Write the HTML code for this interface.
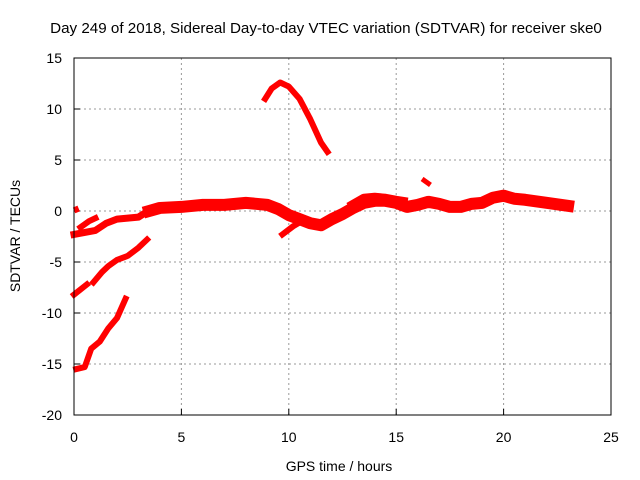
<!DOCTYPE html>
<html><head><meta charset="utf-8"><style>
body{margin:0;background:#fff}
svg{display:block}
text{font-family:"Liberation Sans",sans-serif;font-size:14px;fill:#000}
</style></head><body>
<svg id="chart" width="640" height="480">
<text x="326" y="33" text-anchor="middle" style="font-size:15.2px">Day 249 of 2018, Sidereal Day-to-day VTEC variation (SDTVAR) for receiver ske0</text>
<text x="339" y="471" text-anchor="middle">GPS time / hours</text>
<text transform="translate(20,236) rotate(-90)" text-anchor="middle">SDTVAR / TECUs</text>
<g id="grid"></g><g id="ticks"></g><g id="data"></g>
<rect x="74" y="58" width="537" height="357" fill="none" stroke="#000" stroke-width="1"/>
</svg>
<script>
const xTicks=[0,5,10,15,20,25];
const yTicks=[15,10,5,0,-5,-10,-15,-20];
const mainBand=[[3.5,0],[4,0.3],[5,0.4],[6,0.6],[7,0.6],[8,0.8],[9,0.6],[9.5,0.2],[10,-0.4],[10.5,-0.8],[11,-1.2],[11.5,-1.4],[12,-0.8],[12.5,-0.3],[13,0.3],[13.5,0.8],[14,1.0],[14.5,1.0],[15,0.8],[15.5,0.4],[16,0.6],[16.5,0.9],[17,0.7],[17.5,0.4],[18,0.4],[18.5,0.7],[19,0.8],[19.5,1.3],[20,1.5],[20.5,1.2],[21,1.1],[22,0.8],[23,0.5]];
const noisy=[[13,0.6],[13.5,1.2],[14,1.3],[14.5,1.2],[15,1.0],[15.3,0.9]];
const earlyA=[[0.3,-1.6],[0.7,-1.0],[1,-0.7]];
const earlyB=[[0,-2.3],[0.5,-2.1],[1,-1.9],[1.5,-1.2],[2,-0.8],[2.5,-0.7],[3,-0.6],[3.3,-0.2]];
const lowA=[[0,-8.2],[0.6,-7.2]];
const lowB=[[0.9,-7],[1.3,-6],[1.6,-5.4],[2,-4.8],[2.5,-4.4],[3,-3.6],[3.4,-2.8]];
const deep=[[0.1,-15.5],[0.5,-15.3],[0.8,-13.5],[1.2,-12.8],[1.6,-11.5],[2,-10.5],[2.4,-8.6]];
const arc=[[8.9,11],[9.2,12],[9.6,12.6],[10,12.2],[10.5,11],[11,9],[11.5,6.7],[11.8,5.8]];
const dip=[[9.7,-2.3],[10.2,-1.5],[10.6,-1.0]];
const blob=[[16.3,3.0],[16.5,2.7]];
const dot=[[0.1,0.2],[0.12,0.1]];
const X=v=>74+v*537/25, Y=v=>211-v*10.2;
const NS='http://www.w3.org/2000/svg';
const g=document.getElementById('grid'),t=document.getElementById('ticks'),d=document.getElementById('data');
function mk(tag,a,p){const e=document.createElementNS(NS,tag);for(const k in a)e.setAttribute(k,a[k]);p.appendChild(e);return e;}
xTicks.forEach(v=>{
 if(v>0&&v<25){const l=mk('line',{x1:X(v),x2:X(v),y1:58,y2:415,stroke:'#999','stroke-dasharray':'2,3'},g);
 
 }
 const tl=mk('text',{x:X(v),y:442,'text-anchor':'middle'},t);tl.textContent=v;
 
 
 mk('line',{x1:X(v),x2:X(v),y1:415,y2:409,stroke:'#000'},t);
});
yTicks.forEach(v=>{
 if(v<15&&v>-20){const l=mk('line',{x1:74,x2:611,y1:Y(v),y2:Y(v),stroke:'#999','stroke-dasharray':'2,3'},g);
 
 }
 const tl=mk('text',{x:62,y:Y(v)+5,'text-anchor':'end'},t);tl.textContent=v;
 
 
 mk('line',{x1:74,x2:80,y1:Y(v),y2:Y(v),stroke:'#000'},t);
});
function series(pts,w,name){
 const p=mk('polyline',{points:pts.map(q=>X(q[0])+','+Y(q[1])).join(' '),fill:'none',stroke:'#f00','stroke-width':w,'stroke-linejoin':'round','stroke-linecap':'square'},d);
 
 
}
series(mainBand,12,'main-band-series');
series(noisy,10,'noisy-band-series');
series(earlyA,6,'early-upper-series');
series(earlyB,7,'early-second-series');
series(lowA,6,'low-short-series');
series(lowB,6,'low-series');
series(deep,6,'deep-series');
series(arc,6,'arc-series');
series(dip,6,'dip-series');
series(blob,5,'blob-series');
series(dot,5,'dot-series');
</script>
</body></html>
